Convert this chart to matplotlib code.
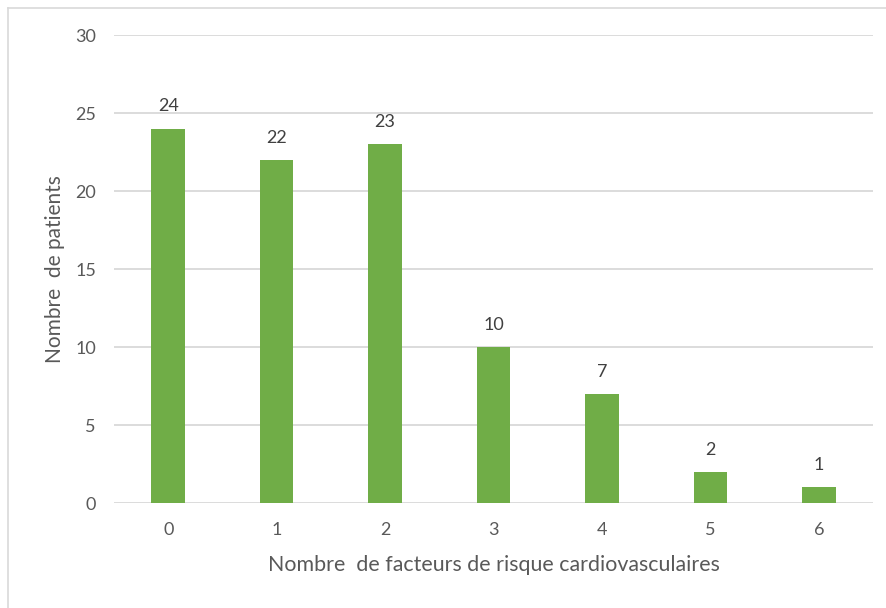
import matplotlib
matplotlib.use("Agg")
import matplotlib.pyplot as plt
from matplotlib.lines import Line2D

categories = ["0", "1", "2", "3", "4", "5", "6"]
patients = [24, 22, 23, 10, 7, 2, 1]
y_ticks = [0, 5, 10, 15, 20, 25, 30]

GREEN = "#70AD47"
TEXT = "#595959"
GRID = "#D9D9D9"

plt.rcParams["font.family"] = ["Lato", "DejaVu Sans"]

fig = plt.figure(figsize=(8.86, 6.08), dpi=100)
ax = fig.add_axes([114 / 886, 1 - 503 / 608, 759 / 886, 468 / 608])

x = range(len(categories))
ax.bar(x, patients, width=0.31, color=GREEN, zorder=3)

for xi, v in zip(x, patients):
    ax.annotate(str(v), (xi, v), xytext=(0, 16), textcoords="offset points",
                ha="center", va="center", fontsize=13, color="#404040")

ax.set_xlim(-0.5, len(categories) - 0.5)
ax.set_ylim(0, 30)
ax.set_yticks(y_ticks)
ax.set_xticks(list(x))
ax.set_xticklabels(categories)
ax.tick_params(axis="both", length=0, labelsize=13, labelcolor=TEXT)
ax.tick_params(axis="x", pad=14)
ax.tick_params(axis="y", pad=13)
ax.grid(axis="y", color=GRID, linewidth=1.3, zorder=0)
for s in ax.spines.values():
    s.set_visible(False)

ax.set_xlabel("Nombre  de facteurs de risque cardiovasculaires",
              fontsize=15.4, color=TEXT, labelpad=12)
ax.set_ylabel("Nombre  de patients", fontsize=15, color=TEXT, labelpad=7)

# chart frame (top/left visible, cropped at right and bottom)
fig.add_artist(Line2D([8 / 886, 1.0], [1 - 8 / 608] * 2, color="#D9D9D9", linewidth=1.2))
fig.add_artist(Line2D([8 / 886] * 2, [0, 1 - 8 / 608], color="#D9D9D9", linewidth=1.2))

fig.savefig("out.png", dpi=100)
